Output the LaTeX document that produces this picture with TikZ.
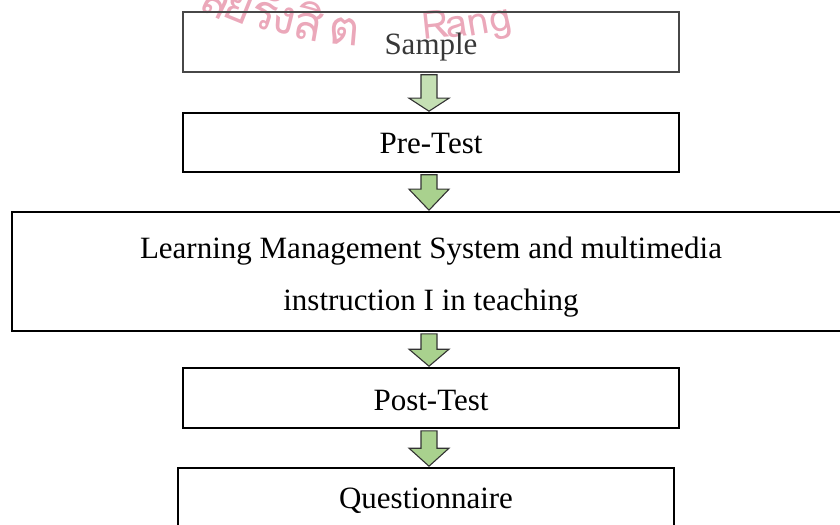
\documentclass[tikz,border=0pt]{standalone}
\usepackage{fontspec}
\setmainfont{Liberation Serif}
\newfontfamily\thaifont[Script=Thai]{Loma}
\usetikzlibrary{calc}
\definecolor{arrowgreen}{HTML}{A9D18E}
\definecolor{arrowgreenlight}{HTML}{C5E0B4}
\definecolor{arrowedge}{HTML}{333333}
\definecolor{wmpink}{HTML}{EBA8BA}
% #1 from node, #2 to node, #3 head length, #4 fill colour
\newcommand{\flowarrow}[4]{%
  \path ($(#1.south)+(-2,2)$) coordinate (fa-s);
  \path ($(#2.north)+(0,-1)$) coordinate (fa-t0);
  \path (fa-s |- fa-t0) coordinate (fa-t);
  \draw[arrowbody, fill=#4]
    ($(fa-s)+(-8,0)$) -- ($(fa-s)+(8,0)$) -- ($(fa-t)+(8,-#3)$) --
    ($(fa-t)+(20,-#3)$) -- (fa-t) -- ($(fa-t)+(-20,-#3)$) --
    ($(fa-t)+(-8,-#3)$) -- cycle;
}
% strut that pushes a box text down
\newcommand{\tdown}[1]{\rule{0pt}{#1bp}}
\begin{document}
\begin{tikzpicture}[x=1bp,y=-1bp,
  box/.style={draw=black, line width=1.6bp, inner sep=0pt,
    font=\fontsize{31bp}{52bp}\selectfont, align=center},
  arrowbody/.style={draw=arrowedge, line width=1.1bp, line join=miter},
  wmth/.style={text=wmpink, font=\thaifont\fontsize{48bp}{48bp}\selectfont,
    anchor=base, inner sep=0pt},
  wmla/.style={text=wmpink, font=\thaifont\fontsize{39bp}{39bp}\selectfont,
    anchor=base, inner sep=0pt}]
\useasboundingbox (0,0) rectangle (840,525);

% watermark (curved, partly cut off at the top)
\node[wmth, rotate=-26] (wm1) at (210,15) {ลั};
\node[wmth, rotate=-22] (wm2) at (234,21) {ย};
\node[wmth, rotate=-18] (wm3) at (260,28) {รั};
\node[wmth, rotate=-14] (wm4) at (281,33) {ง};
\node[wmth, rotate=-10] (wm5) at (306,40) {สิ};
\node[wmth, rotate=-5]  (wm6) at (343,45) {ต};
\node[wmla, rotate=6]   (wm7) at (437,38) {R};
\node[wmla, rotate=8]   (wm8) at (458,37) {a};
\node[wmla, rotate=10]  (wm9) at (480,35) {n};
\node[wmla, rotate=13]  (wm10) at (503,31) {g};

% boxes
\node[box, draw=black!72, text=black!78, minimum width=496bp, minimum height=60bp]
  (sample) at (431,42) {\tdown{31}Sample};
\node[box, minimum width=496bp, minimum height=59bp]
  (pre) at (431,142.5) {\tdown{23}Pre-Test};
\node[box, minimum width=838bp, minimum height=119bp]
  (lms) at (431,271.5) {\tdown{33}Learning Management System and multimedia\\instruction I in teaching};
\node[box, minimum width=496bp, minimum height=60bp]
  (post) at (431,398) {\tdown{25}Post-Test};
\node[box, minimum width=496bp, minimum height=60bp]
  (quest) at (426,498) {\tdown{27}Questionnaire};

% block arrows
\flowarrow{sample}{pre}{13}{arrowgreenlight}
\flowarrow{pre}{lms}{21}{arrowgreen}
\flowarrow{lms}{post}{17}{arrowgreen}
\flowarrow{post}{quest}{18}{arrowgreen}
\end{tikzpicture}
\end{document}
